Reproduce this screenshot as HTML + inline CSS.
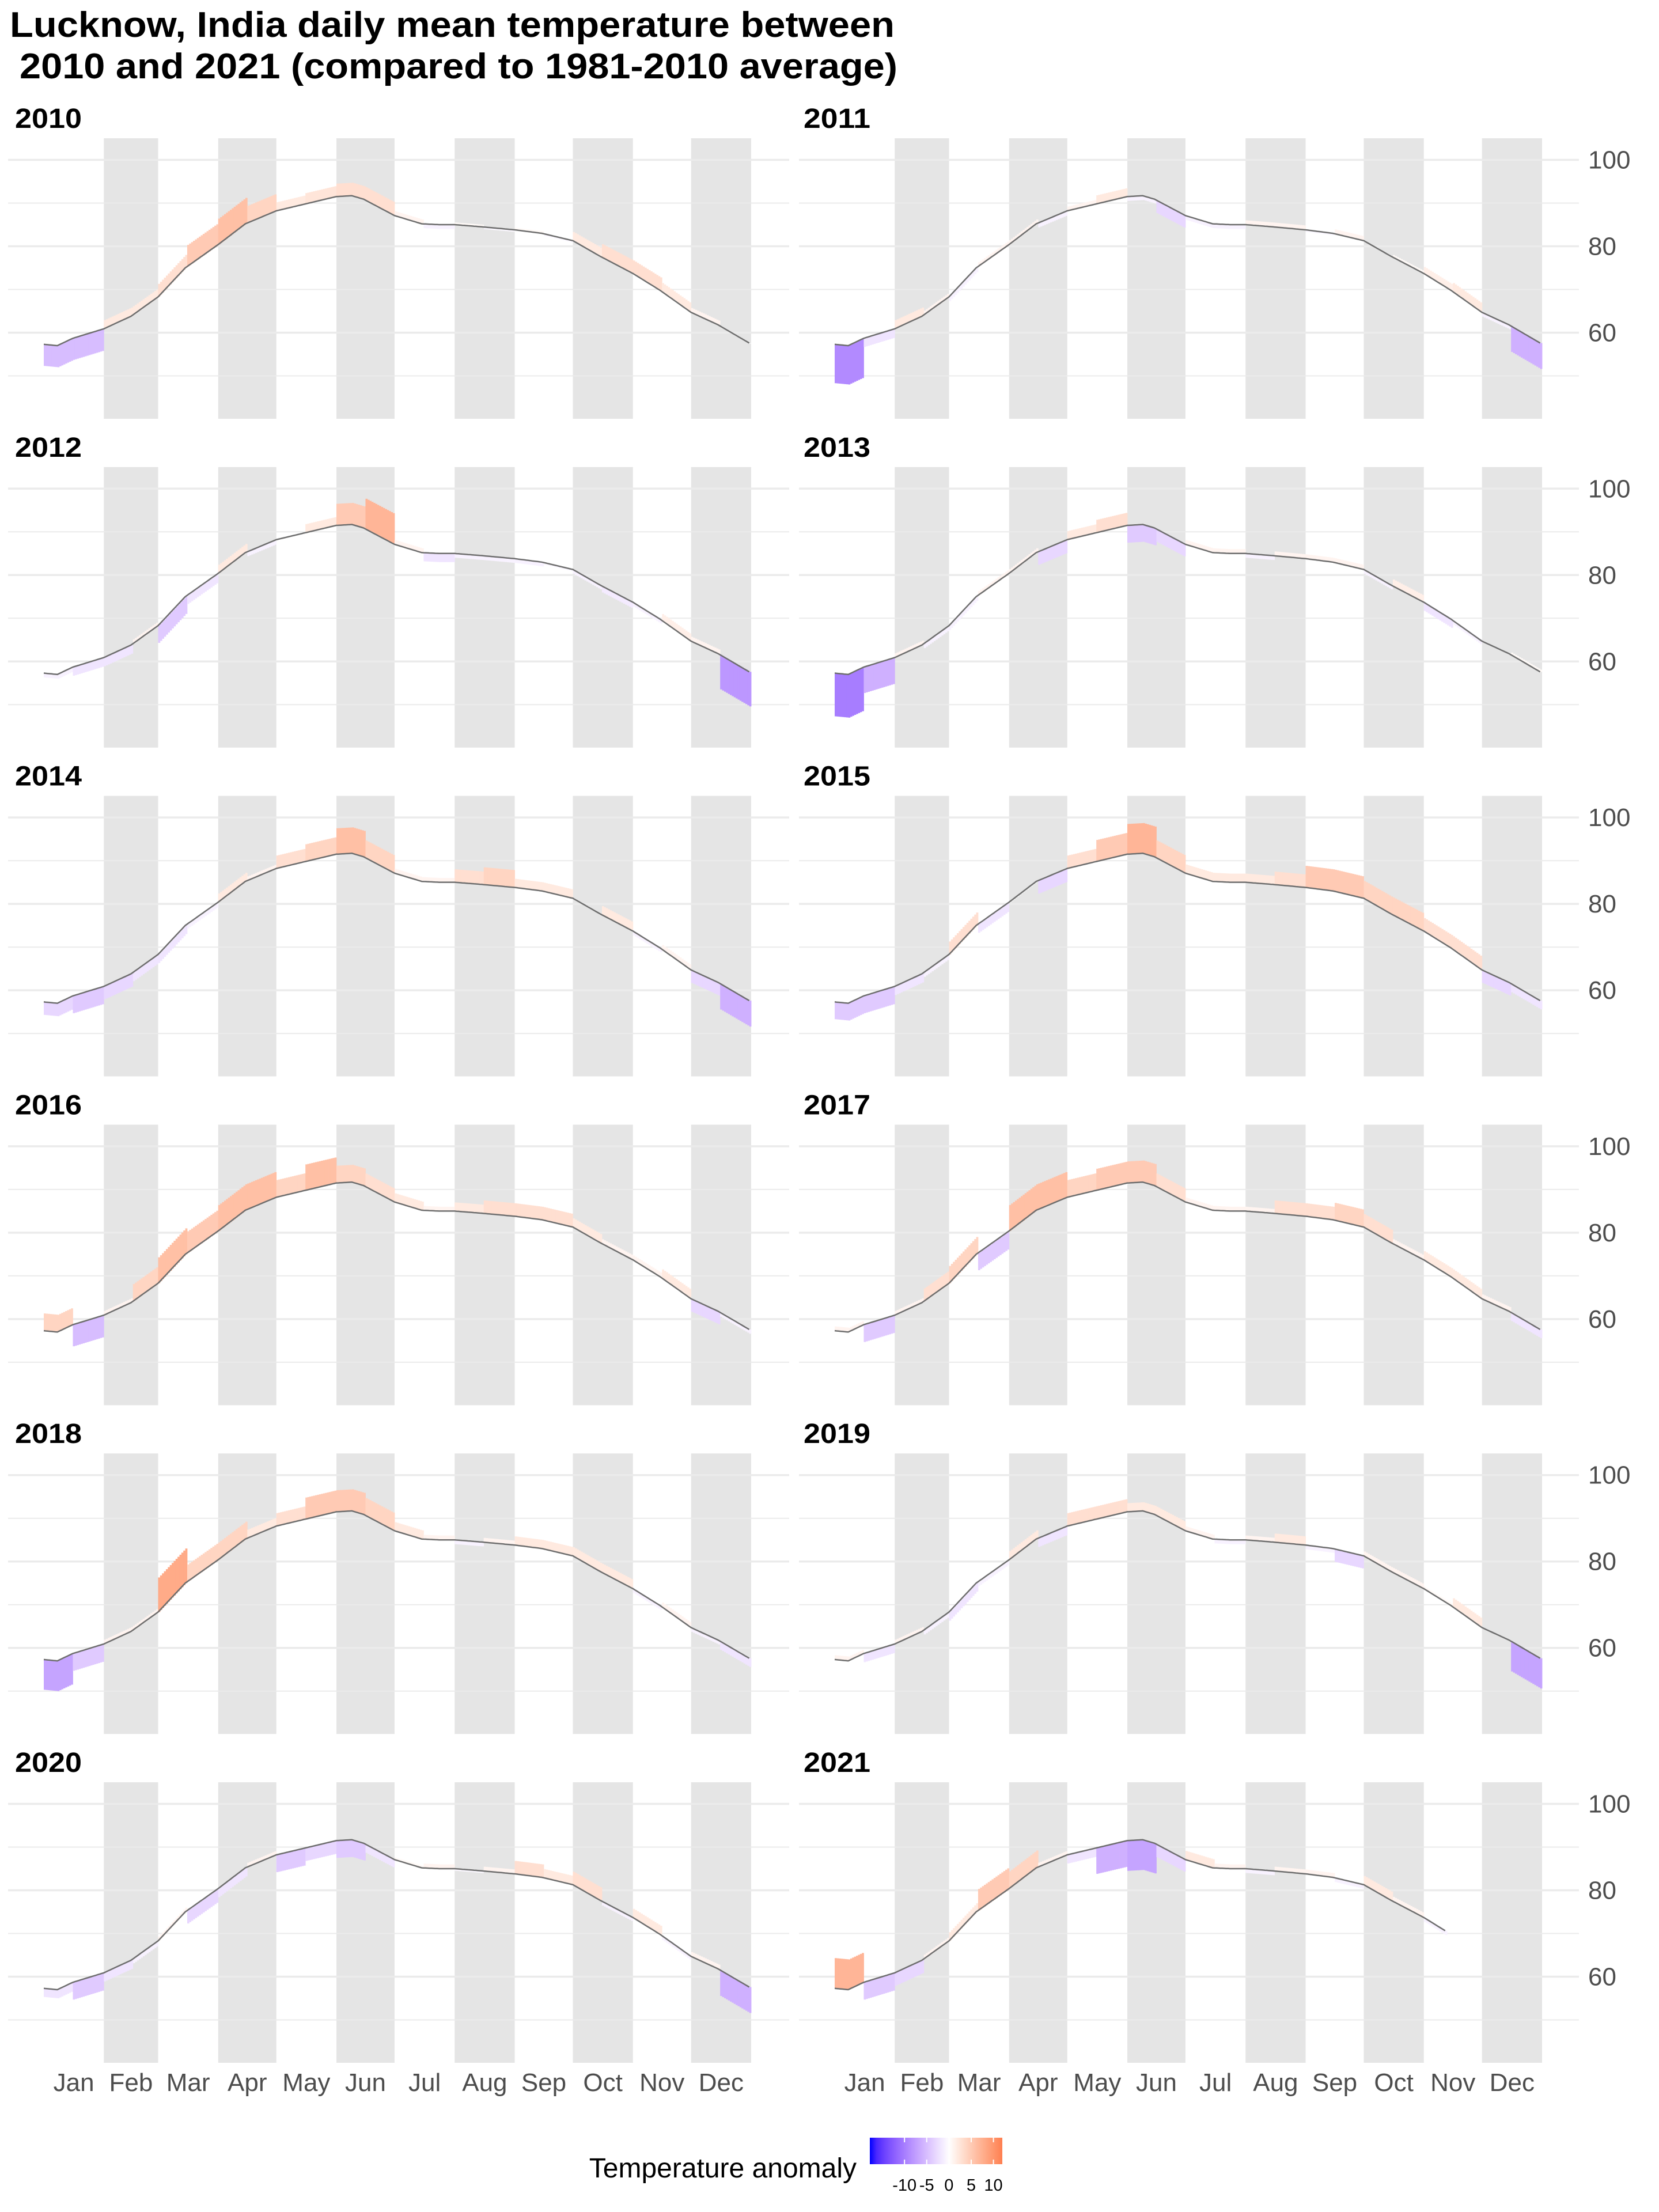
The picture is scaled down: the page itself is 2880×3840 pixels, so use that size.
<!DOCTYPE html>
<html><head><meta charset="utf-8">
<style>
html,body{margin:0;padding:0;background:#fff;}
svg{display:block;font-family:"Liberation Sans",Arial,sans-serif;}
</style></head>
<body>
<svg id="chart" width="2880" height="3840" viewBox="0 0 2880 3840" xmlns="http://www.w3.org/2000/svg">
<text x="17" y="64" font-size="62" font-weight="bold" fill="#000" textLength="1536" lengthAdjust="spacingAndGlyphs">Lucknow, India daily mean temperature between</text>
<text x="34" y="136" font-size="62" font-weight="bold" fill="#000" textLength="1524" lengthAdjust="spacingAndGlyphs">2010 and 2021 (compared to 1981-2010 average)</text>
<g id="panels"></g>
<g id="legend">
<text x="1487" y="3780" font-size="48" fill="#000" text-anchor="end">Temperature anomaly</text>
</g>
</svg>
<script>
// ---- data ----
const years = [2010,2011,2012,2013,2014,2015,2016,2017,2018,2019,2020,2021];
const normalDays = [1,8,16,32,46,60,74,91,105,121,135,152,160,166,182,196,205,213,227,244,258,274,288,305,319,335,349,365];
const normalValues = [57.3,57.0,58.7,60.9,63.8,68.3,75,80.4,85.2,88.2,89.7,91.5,91.7,90.9,87.1,85.2,85.0,85.0,84.5,83.8,83.0,81.3,77.7,73.7,69.8,64.7,61.8,57.6];
// half-month anomaly values (°F), Jan 1-15, Jan 16-31, Feb 1-15, ...
const anom2010 = [-5,-5,2,2,3,5,6,4,2,2.5,3,3,1,-1,0.5,-0.5,0.5,-0.5,2,3,3,2,1,0];
const anom2011 = [-9,-2,2,1,-1,1,1,-1,1,2,-1,-3,-1,-1,1,1,-0.5,1,0,0.5,1.5,2,-1,-6];
const anom2012 = [-1,-2,-2,1,-4,-2,2,-1,0,2,5,7,1,-2,-1,-1,-1,-0.5,-1,-1.5,-1,1.5,1,-8];
const anom2013 = [-10,-6,1,-1,-1,1,1,-3,2,3,-4,-3,1,1,-1,1,1,1,-1,1.5,-2,-1,0,0.5];
const anom2014 = [-3,-4,-3,-2,-2,-1,2,1,3,4,6,4,1,1,3,4,2,2,0,2,-1,1,-3,-6];
const anom2015 = [-4,-4,-2,-1,3,-2,0,-3,3,5,7,4,2,2,2,3,5,5,4,4,3,3,-3,-2];
const anom2016 = [4,-5,1,4,6,5,6,6,4,6,4,3,2,1,2,3,3,3,2,1,1,2,-3,-1];
const anom2017 = [1,-4,1,3,4,-4,6,6,4,5,5,3,1,1,1,3,3,4,3,1,2,2,1,-2];
const anom2018 = [-7,-4,1,1,8,4,4,2,3,5,5,4,2,1,-1,1,2,2,2,2,-1,1,-1,-2];
const anom2019 = [1,-2,1,-1,-2,-1,2,-2,3,3,2,2,1,-1,1,2,-1,-3,1,1,0.5,2,0,-7];
const anom2020 = [-2,-4,-2,-1,1,-3,-2,1,-4,-3,-4,-2,0.5,1,-0.5,1,3,2,3,-1,2,-1,1,-6];
const anom2021 = [7,-4,-3,1,2,5,4,1,-2,-6,-7,-3,2,1,-1,1,1,-1,2,1,-1,null,null,null];
const lastDay2021 = 316;
const monthLabels = ["Jan","Feb","Mar","Apr","May","Jun","Jul","Aug","Sep","Oct","Nov","Dec"];
const yTicks = [60,80,100];
const legendTicks = [-10,-5,0,5,10];
const legendMin = -17.8, legendMax = 12;

const anomalies = [anom2010,anom2011,anom2012,anom2013,anom2014,anom2015,anom2016,anom2017,anom2018,anom2019,anom2020,anom2021];

// ---- layout ----
const NS = "http://www.w3.org/2000/svg";
const monthStart = [1,32,60,91,121,152,182,213,244,274,305,335,366];
const dayW = 1228/365;
const rowTop0 = 240, rowStep = 570.8, panelH = 487;
const panelX0 = [76, 1449];
const gridX = [[14,1370],[1387,2741]];
function xDay(p, d){ return panelX0[p] + (d-1)*dayW; }
function yVal(top, v){ return top + (105 - v)*7.5; }
function normalAt(d){
  for (let i=0;i<normalDays.length-1;i++){
    if (d>=normalDays[i] && d<=normalDays[i+1]){
      const t=(d-normalDays[i])/(normalDays[i+1]-normalDays[i]);
      return normalValues[i]+t*(normalValues[i+1]-normalValues[i]);
    }
  }
  return normalValues[normalValues.length-1];
}
function srgb2lin(c){c/=255;return c<=0.04045?c/12.92:Math.pow((c+0.055)/1.055,2.4);}
function lin2srgb(c){c=c<=0.0031308?12.92*c:1.055*Math.pow(c,1/2.4)-0.055;return Math.round(Math.max(0,Math.min(1,c))*255);}
function toLab(rgb){
  const r=srgb2lin(rgb[0]),g=srgb2lin(rgb[1]),b=srgb2lin(rgb[2]);
  let X=(0.4124*r+0.3576*g+0.1805*b)/0.95047,Y=(0.2126*r+0.7152*g+0.0722*b),Z=(0.0193*r+0.1192*g+0.9505*b)/1.08883;
  const f=t=>t>0.008856?Math.cbrt(t):7.787*t+16/116;
  const fx=f(X),fy=f(Y),fz=f(Z);
  return [116*fy-16,500*(fx-fy),200*(fy-fz)];
}
function fromLab(l){
  const fy=(l[0]+16)/116,fx=fy+l[1]/500,fz=fy-l[2]/200;
  const fi=t=>t*t*t>0.008856?t*t*t:(t-16/116)/7.787;
  const X=fi(fx)*0.95047,Y=fi(fy),Z=fi(fz)*1.08883;
  const r=3.2406*X-1.5372*Y-0.4986*Z,g=-0.9689*X+1.8758*Y+0.0415*Z,b=0.0557*X-0.2040*Y+1.0570*Z;
  return "rgb("+lin2srgb(r)+","+lin2srgb(g)+","+lin2srgb(b)+")";
}
const labLow=toLab([0,0,255]), labMid=toLab([255,255,255]), labHigh=toLab([255,127,80]);
function colorFor(v){
  let a,b,t;
  if (v<0){a=labMid;b=labLow;t=Math.min(1,v/legendMin);} else {a=labMid;b=labHigh;t=Math.min(1,v/legendMax);}
  return fromLab([a[0]+(b[0]-a[0])*t,a[1]+(b[1]-a[1])*t,a[2]+(b[2]-a[2])*t]);
}
function mk(tag, attrs, parent){
  const e=document.createElementNS(NS,tag);
  for (const k in attrs) e.setAttribute(k, attrs[k]);
  parent.appendChild(e); return e;
}

const panels = document.getElementById("panels");
years.forEach((yr, i) => {
  const p = i % 2, row = Math.floor(i/2);
  const top = rowTop0 + row*rowStep;
  const g = mk("g", {}, panels);
  
  
  for (let m=1; m<12; m+=2){
    const r = mk("rect", {x:xDay(p,monthStart[m]), y:top, width:(monthStart[m+1]-monthStart[m])*dayW, height:panelH, fill:"#e5e5e5"}, g);
    
    
  }
  for (let v=50; v<=100; v+=10){
    const major = (v%20===0);
    const l = mk("line", {x1:gridX[p][0], x2:gridX[p][1], y1:yVal(top,v), y2:yVal(top,v), stroke:"#ebebeb", "stroke-width":major?3.5:2}, g);
    
    
  }
  const lab = mk("text", {x: p===0?26:1395, y: 222 + row*rowStep, "font-size":48, "font-weight":"bold", fill:"#000", textLength:116, lengthAdjust:"spacingAndGlyphs"}, g);
  lab.textContent = yr;
  
  
  const data = anomalies[i];
  const lastDay = yr===2021 ? lastDay2021 : 365;
  const bars = mk("g", {}, g);
  
  
  for (let d=1; d<=lastDay; d++){
    let m=0; while (d>=monthStart[m+1]) m++;
    const bin = m*2 + ((d-monthStart[m])>=15 ? 1 : 0);
    const a = data[bin];
    if (a===null || a===undefined) continue;
    const n = normalAt(d);
    const y1 = yVal(top, n), y2 = yVal(top, n + a);
    const b = mk("rect", {x:xDay(p,d), y:Math.min(y1,y2), width:dayW+0.4, height:Math.max(1,Math.abs(y2-y1)), fill:colorFor(a)}, bars);
    
    
  }
  let pts = [];
  for (let d=1; d<=lastDay; d++) pts.push(xDay(p,d).toFixed(1)+","+yVal(top, normalAt(d)).toFixed(1));
  const pl = mk("polyline", {points:pts.join(" "), fill:"none", stroke:"#6e6e6e", "stroke-width":2.5}, g);
  
  
  if (p===1){
    yTicks.forEach(v => {
      const t = mk("text", {x:2757, y:yVal(top,v)+15, "font-size":44, fill:"#4d4d4d"}, g);
      t.textContent = v;
      
      
    });
  }
  if (row===5){
    monthLabels.forEach((ml, m) => {
      const cx = xDay(p, (monthStart[m]+monthStart[m+1])/2);
      const t = mk("text", {x:cx, y:3630, "font-size":44, fill:"#4d4d4d", "text-anchor":"middle"}, g);
      t.textContent = ml;
      
      
    });
  }
});

const legend = document.getElementById("legend");
const lx0 = 1510, lx1 = 1740;
function xLeg(v){ return lx0 + (v-legendMin)/(legendMax-legendMin)*(lx1-lx0); }
const defs = mk("defs", {}, legend);
const grad = mk("linearGradient", {id:"lg", x1:"0", x2:"1", y1:"0", y2:"0"}, defs);
for (let k=0;k<=20;k++){
  const v = legendMin + (legendMax-legendMin)*k/20;
  mk("stop", {offset:(k/20), "stop-color":colorFor(v)}, grad);
}
const bar = mk("rect", {x:lx0, y:3711, width:lx1-lx0, height:46, fill:"url(#lg)"}, legend);


legendTicks.forEach(v => {
  const x = xLeg(v);
  mk("line", {x1:x, x2:x, y1:3711, y2:3719, stroke:"#fff", "stroke-width":2}, legend);
  mk("line", {x1:x, x2:x, y1:3749, y2:3757, stroke:"#fff", "stroke-width":2}, legend);
  const t = mk("text", {x:x, y:3803, "font-size":29, fill:"#000", "text-anchor":"middle"}, legend);
  t.textContent = v;
  
  
});
</script>
</body></html>
